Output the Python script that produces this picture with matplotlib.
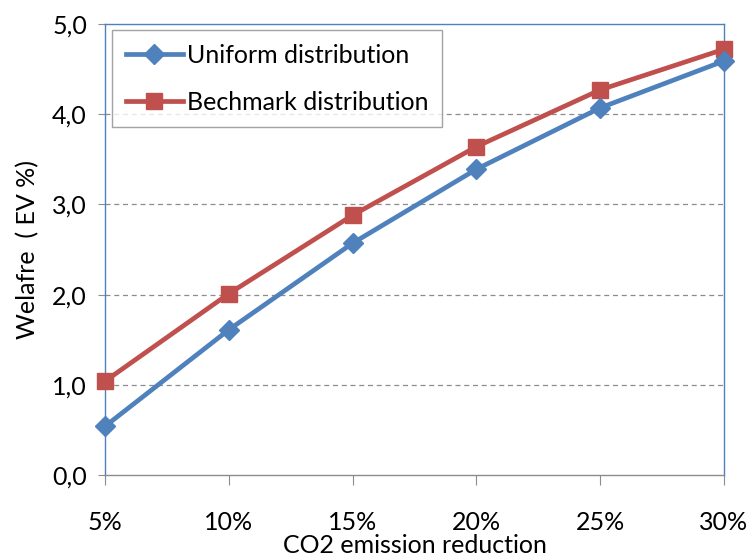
import matplotlib
matplotlib.use("Agg")
import matplotlib.pyplot as plt

categories = ["5%", "10%", "15%", "20%", "25%", "30%"]
uniform = [0.54, 1.61, 2.57, 3.39, 4.07, 4.59]
benchmark = [1.04, 2.01, 2.88, 3.64, 4.27, 4.72]
yticks = [0, 1, 2, 3, 4, 5]
ytick_labels = ["0,0", "1,0", "2,0", "3,0", "4,0", "5,0"]

plt.rcParams['font.family'] = ['Lato', 'DejaVu Sans']
FS = 18

fig = plt.figure(figsize=(7.52, 5.6), dpi=100)
ax = fig.add_axes([105/752, 1-475/560, (724-105)/752, (475-24)/560])

x = list(range(len(categories)))
blue = "#4F81BD"
red = "#C0504D"
ax.plot(x, uniform, color=blue, lw=3.4, marker="D", ms=10, label="Uniform distribution",
        clip_on=False, zorder=4)
ax.plot(x, benchmark, color=red, lw=3.4, marker="s", ms=12, label="Bechmark distribution",
        clip_on=False, zorder=3)

ax.set_xlim(0, len(categories) - 1)
ax.set_ylim(0, 5)
ax.set_xticks(x)
ax.set_xticklabels(categories, fontsize=FS)
ax.set_yticks(yticks)
ax.set_yticklabels(ytick_labels, fontsize=FS)
for yv in yticks[1:-1]:
    ax.axhline(yv, color="#8c8c8c", lw=0.9, ls=(0, (4, 3)), zorder=1)

for s in ["top", "right", "left"]:
    ax.spines[s].set_color("#4F81BD")
    ax.spines[s].set_linewidth(1.0)
ax.spines["bottom"].set_color("#8c8c8c")
ax.spines["bottom"].set_linewidth(1.0)
ax.tick_params(axis="x", direction="out", length=7, color="#8c8c8c", pad=19)
ax.tick_params(axis="y", direction="out", length=5, color="#8c8c8c", pad=8)

ax.set_xlabel("CO2 emission reduction", fontsize=FS, labelpad=0)
ax.set_ylabel("Welafre  ( EV %)", fontsize=FS, labelpad=9)

leg = ax.legend(loc="upper left", bbox_to_anchor=(7/619, 1 - 6/451), fontsize=FS, frameon=True,
                fancybox=False, edgecolor="#8c8c8c", handlelength=2.3, handletextpad=0.15,
                borderpad=0.55, labelspacing=0.95, borderaxespad=0)
leg.get_frame().set_linewidth(1.0)

fig.savefig("out.png", dpi=100)
